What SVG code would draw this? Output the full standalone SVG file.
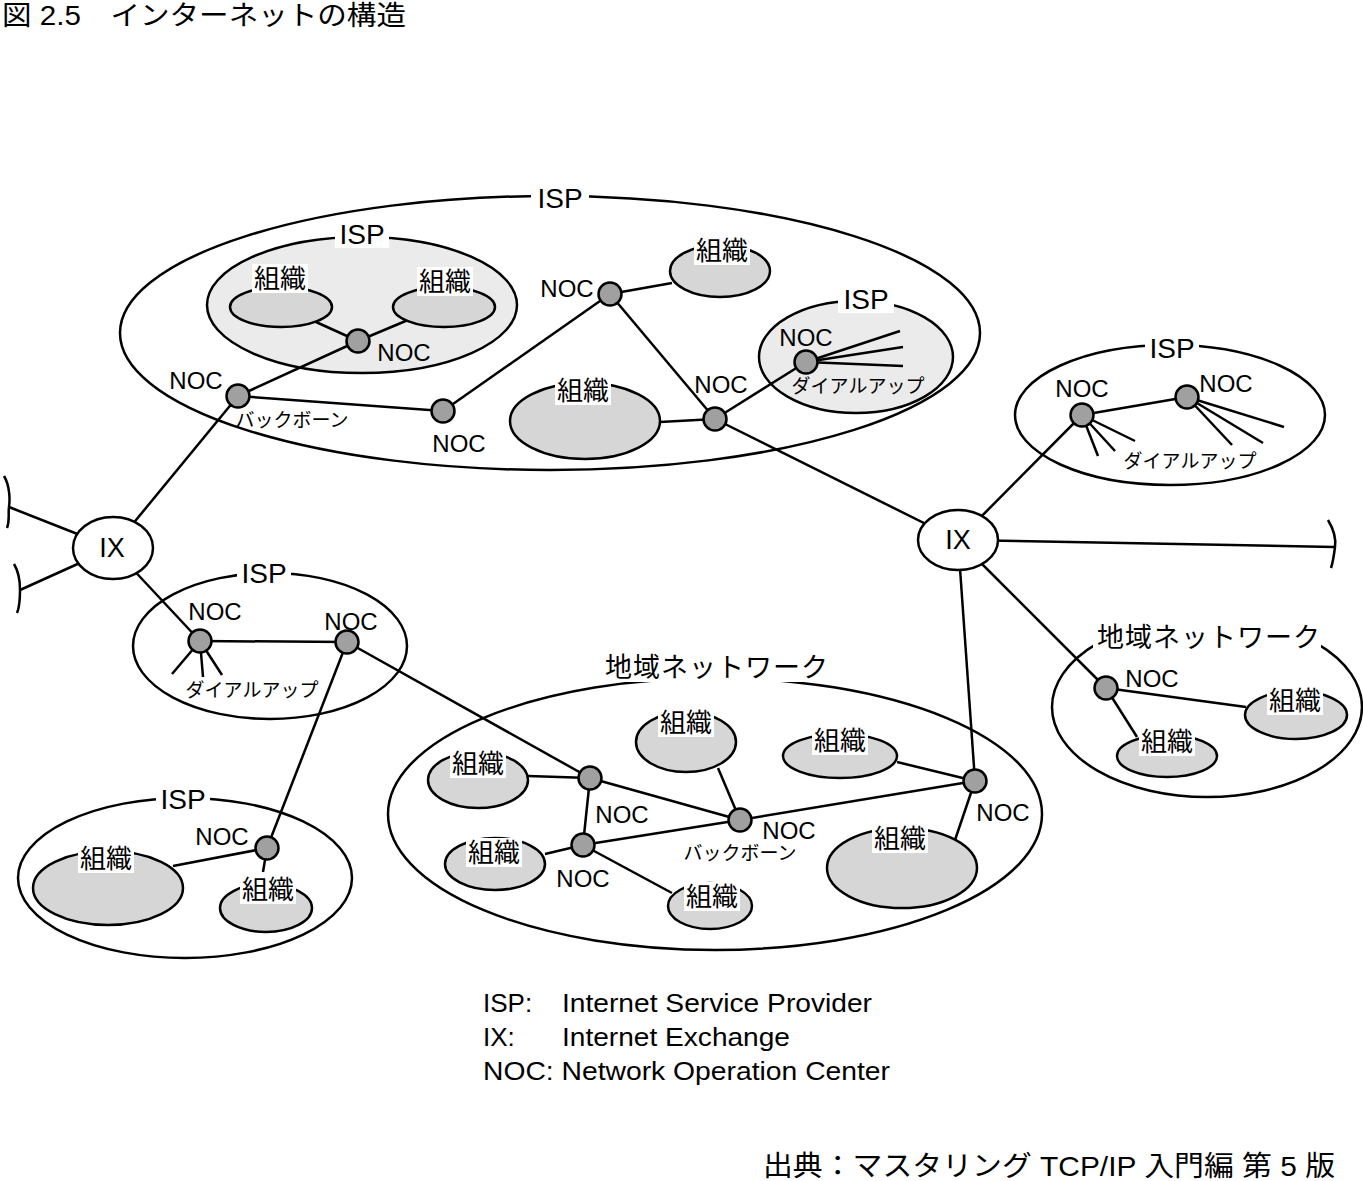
<svg xmlns="http://www.w3.org/2000/svg" width="1363" height="1181" viewBox="0 0 1363 1181">
<style>
text{font-family:"Liberation Sans","Noto Sans CJK JP",sans-serif;fill:#000}
.c{fill:none;stroke:#000;stroke-width:2.5}
.box{fill:#fff;stroke:#000;stroke-width:2.5}
.boxg{fill:#ebebeb;stroke:#000;stroke-width:2.5}
.org{fill:#d6d6d6;stroke:#000;stroke-width:2.5}
.noc{fill:#a0a0a0;stroke:#000;stroke-width:2.5}
.ix{fill:#fff;stroke:#000;stroke-width:2.5}
.bg{fill:#fff}
.t-isp{font-size:28px;text-anchor:middle}
.t-org{font-size:26px;text-anchor:middle}
.t-noc{font-size:24px;text-anchor:middle}
.t-sm{font-size:19px;text-anchor:middle}
.t-ix{font-size:27px;text-anchor:middle}
.t-reg{font-size:27px;text-anchor:middle;letter-spacing:1px}
.t-leg{font-size:26px}
</style>

<text x="2" y="25" style="font-size:27px" textLength="404" lengthAdjust="spacingAndGlyphs">図 2.5　インターネットの構造</text>

<!-- containers -->
<g id="isp-top">
  <ellipse class="box" cx="550" cy="333" rx="430" ry="137"/>
  <rect class="bg" x="531" y="184" width="58" height="28"/>
  <text class="t-isp" x="560" y="208">ISP</text>
</g>
<g id="isp-inner">
  <ellipse class="boxg" cx="362" cy="305" rx="155" ry="68"/>
  <rect class="bg" x="335" y="220" width="54" height="28"/>
  <text class="t-isp" x="362" y="244">ISP</text>
</g>
<g id="isp-dialup">
  <ellipse class="boxg" cx="856" cy="357" rx="97" ry="56"/>
  <rect class="bg" x="838" y="285" width="56" height="28"/>
  <text class="t-isp" x="866" y="309">ISP</text>
</g>
<g id="isp-right">
  <ellipse class="box" cx="1170" cy="415" rx="155" ry="70"/>
  <rect class="bg" x="1145" y="334" width="54" height="28"/>
  <text class="t-isp" x="1172" y="358">ISP</text>
</g>
<g id="isp-left">
  <ellipse class="box" cx="270" cy="646" rx="137" ry="73"/>
  <rect class="bg" x="237" y="559" width="54" height="28"/>
  <text class="t-isp" x="264" y="583">ISP</text>
</g>
<g id="isp-bottom">
  <ellipse class="box" cx="185" cy="878" rx="167" ry="80"/>
  <rect class="bg" x="156" y="785" width="54" height="28"/>
  <text class="t-isp" x="183" y="809">ISP</text>
</g>
<g id="region-center">
  <ellipse class="box" cx="715" cy="814" rx="327" ry="136"/>
  <rect class="bg" x="594" y="650" width="246" height="32"/>
  <text class="t-reg" x="717" y="677">地域ネットワーク</text>
</g>
<g id="region-right">
  <ellipse class="box" cx="1207" cy="707" rx="155" ry="90"/>
  <rect class="bg" x="1093" y="608" width="228" height="44"/>
  <text class="t-reg" x="1209" y="647">地域ネットワーク</text>
</g>

<!-- connectors -->
<g id="connectors" class="c">
  <line x1="316" y1="322" x2="358" y2="341"/>
  <line x1="408" y1="320" x2="358" y2="341"/>
  <line x1="358" y1="341" x2="238" y2="396"/>
  <line x1="238" y1="396" x2="443" y2="411"/>
  <line x1="443" y1="411" x2="610" y2="294"/>
  <line x1="610" y1="294" x2="672" y2="283"/>
  <line x1="610" y1="294" x2="715" y2="419"/>
  <line x1="660" y1="422" x2="715" y2="419"/>
  <line x1="715" y1="419" x2="806" y2="362"/>
  <line x1="806" y1="362" x2="900" y2="331"/>
  <line x1="806" y1="362" x2="903" y2="347"/>
  <line x1="806" y1="362" x2="903" y2="366"/>
  <line x1="715" y1="419" x2="958" y2="540"/>
  <line x1="113" y1="548" x2="238" y2="396"/>
  <line x1="113" y1="548" x2="9" y2="507"/>
  <line x1="113" y1="548" x2="20" y2="590"/>
  <line x1="113" y1="548" x2="200" y2="641"/>
  <path d="M4 476 C10 486 10 500 9 507 C8 514 10 520 7 528"/>
  <path d="M14 564 C20 574 20 584 20 590 C20 598 20 606 17 613"/>
  <line x1="200" y1="641" x2="347" y2="642"/>
  <line x1="200" y1="641" x2="172" y2="674"/>
  <line x1="200" y1="641" x2="203" y2="677"/>
  <line x1="200" y1="641" x2="222" y2="675"/>
  <line x1="347" y1="642" x2="267" y2="848"/>
  <line x1="347" y1="642" x2="590" y2="778"/>
  <line x1="267" y1="848" x2="173" y2="866"/>
  <line x1="267" y1="848" x2="263" y2="872"/>
  <line x1="528" y1="776" x2="590" y2="778"/>
  <line x1="590" y1="778" x2="583" y2="845"/>
  <line x1="590" y1="778" x2="740" y2="820"/>
  <line x1="583" y1="845" x2="740" y2="820"/>
  <line x1="583" y1="845" x2="545" y2="854"/>
  <line x1="583" y1="845" x2="672" y2="893"/>
  <line x1="718" y1="768" x2="740" y2="820"/>
  <line x1="740" y1="820" x2="975" y2="781"/>
  <line x1="897" y1="762" x2="975" y2="781"/>
  <line x1="975" y1="781" x2="955" y2="840"/>
  <line x1="975" y1="781" x2="958" y2="540"/>
  <line x1="958" y1="540" x2="1334" y2="547"/>
  <path d="M1328 520 C1334 530 1336 540 1335 547 C1334 555 1333 562 1331 568"/>
  <line x1="958" y1="540" x2="1082" y2="415"/>
  <line x1="1082" y1="415" x2="1187" y2="397"/>
  <line x1="1082" y1="415" x2="1098" y2="456"/>
  <line x1="1082" y1="415" x2="1115" y2="451"/>
  <line x1="1082" y1="415" x2="1135" y2="441"/>
  <line x1="1187" y1="397" x2="1232" y2="445"/>
  <line x1="1187" y1="397" x2="1263" y2="443"/>
  <line x1="1187" y1="397" x2="1284" y2="427"/>
  <line x1="958" y1="540" x2="1106" y2="688"/>
  <line x1="1106" y1="688" x2="1246" y2="707"/>
  <line x1="1106" y1="688" x2="1137" y2="737"/>
</g>

<!-- IX nodes -->
<g id="ix-left"><ellipse class="ix" cx="113" cy="548" rx="40" ry="31"/><text class="t-ix" x="112" y="557">IX</text></g>
<g id="ix-right"><ellipse class="ix" cx="958" cy="540" rx="40" ry="30"/><text class="t-ix" x="958" y="549">IX</text></g>

<!-- organizations -->
<g id="org1"><ellipse class="org" cx="281" cy="307" rx="51" ry="20"/><rect class="bg" x="252" y="264" width="56" height="29"/><text class="t-org" x="280" y="288">組織</text></g>
<g id="org2"><ellipse class="org" cx="444" cy="307" rx="51" ry="20"/><rect class="bg" x="417" y="267" width="56" height="29"/><text class="t-org" x="445" y="291">組織</text></g>
<g id="org3"><ellipse class="org" cx="720" cy="271" rx="50" ry="26"/><rect class="bg" x="694" y="236" width="56" height="29"/><text class="t-org" x="722" y="260">組織</text></g>
<g id="org4"><ellipse class="org" cx="585" cy="421" rx="75" ry="38"/><rect class="bg" x="555" y="376" width="56" height="29"/><text class="t-org" x="583" y="400">組織</text></g>
<g id="org5"><ellipse class="org" cx="108" cy="888" rx="75" ry="37"/><rect class="bg" x="78" y="844" width="56" height="29"/><text class="t-org" x="106" y="868">組織</text></g>
<g id="org6"><ellipse class="org" cx="266" cy="908" rx="46" ry="24"/><rect class="bg" x="240" y="875" width="56" height="29"/><text class="t-org" x="268" y="899">組織</text></g>
<g id="org7"><ellipse class="org" cx="478" cy="780" rx="50" ry="28"/><rect class="bg" x="450" y="749" width="56" height="29"/><text class="t-org" x="478" y="773">組織</text></g>
<g id="org8"><ellipse class="org" cx="686" cy="742" rx="50" ry="30"/><rect class="bg" x="658" y="708" width="56" height="29"/><text class="t-org" x="686" y="732">組織</text></g>
<g id="org9"><ellipse class="org" cx="840" cy="756" rx="57" ry="22"/><rect class="bg" x="812" y="726" width="56" height="29"/><text class="t-org" x="840" y="750">組織</text></g>
<g id="org10"><ellipse class="org" cx="495" cy="864" rx="50" ry="26"/><rect class="bg" x="466" y="838" width="56" height="29"/><text class="t-org" x="494" y="862">組織</text></g>
<g id="org11"><ellipse class="org" cx="710" cy="906" rx="42" ry="23"/><rect class="bg" x="684" y="882" width="56" height="29"/><text class="t-org" x="712" y="906">組織</text></g>
<g id="org12"><ellipse class="org" cx="902" cy="868" rx="75" ry="40"/><rect class="bg" x="872" y="824" width="56" height="29"/><text class="t-org" x="900" y="848">組織</text></g>
<g id="org13"><ellipse class="org" cx="1296" cy="715" rx="51" ry="24"/><rect class="bg" x="1267" y="686" width="56" height="29"/><text class="t-org" x="1295" y="710">組織</text></g>
<g id="org14"><ellipse class="org" cx="1167" cy="756" rx="50" ry="21"/><rect class="bg" x="1139" y="727" width="56" height="29"/><text class="t-org" x="1167" y="751">組織</text></g>

<!-- NOC nodes -->
<g id="noc1"><circle class="noc" cx="358" cy="341" r="11.5"/><text class="t-noc" x="404" y="361">NOC</text></g>
<g id="noc2"><circle class="noc" cx="238" cy="396" r="11.5"/><text class="t-noc" x="196" y="389">NOC</text><text class="t-sm" x="292" y="427">バックボーン</text></g>
<g id="noc3"><circle class="noc" cx="443" cy="411" r="11.5"/><text class="t-noc" x="459" y="452">NOC</text></g>
<g id="noc4"><circle class="noc" cx="610" cy="294" r="11.5"/><text class="t-noc" x="567" y="297">NOC</text></g>
<g id="noc5"><circle class="noc" cx="715" cy="419" r="11.5"/><text class="t-noc" x="721" y="393">NOC</text></g>
<g id="noc6"><circle class="noc" cx="806" cy="362" r="11.5"/><text class="t-noc" x="806" y="346">NOC</text><text class="t-sm" x="858" y="393">ダイアルアップ</text></g>
<g id="noc7"><circle class="noc" cx="1082" cy="415" r="11.5"/><text class="t-noc" x="1082" y="397">NOC</text><text class="t-sm" x="1190" y="468">ダイアルアップ</text></g>
<g id="noc8"><circle class="noc" cx="1187" cy="397" r="11.5"/><text class="t-noc" x="1226" y="392">NOC</text></g>
<g id="noc9"><circle class="noc" cx="200" cy="641" r="11.5"/><text class="t-noc" x="215" y="620">NOC</text><text class="t-sm" x="252" y="697">ダイアルアップ</text></g>
<g id="noc10"><circle class="noc" cx="347" cy="642" r="11.5"/><text class="t-noc" x="351" y="630">NOC</text></g>
<g id="noc11"><circle class="noc" cx="267" cy="848" r="11.5"/><text class="t-noc" x="222" y="845">NOC</text></g>
<g id="noc12"><circle class="noc" cx="590" cy="778" r="11.5"/><text class="t-noc" x="622" y="823">NOC</text></g>
<g id="noc13"><circle class="noc" cx="583" cy="845" r="11.5"/><text class="t-noc" x="583" y="887">NOC</text></g>
<g id="noc14"><circle class="noc" cx="740" cy="820" r="11.5"/><text class="t-noc" x="789" y="839">NOC</text><text class="t-sm" x="740" y="860">バックボーン</text></g>
<g id="noc15"><circle class="noc" cx="975" cy="781" r="11.5"/><text class="t-noc" x="1003" y="821">NOC</text></g>
<g id="noc16"><circle class="noc" cx="1106" cy="688" r="11.5"/><text class="t-noc" x="1152" y="687">NOC</text></g>

<!-- legend -->
<g id="legend">
  <text x="483" y="1012" class="t-leg">ISP:</text><text x="562" y="1012" class="t-leg" textLength="310" lengthAdjust="spacingAndGlyphs">Internet Service Provider</text>
  <text x="483" y="1046" class="t-leg">IX:</text><text x="562" y="1046" class="t-leg" textLength="228" lengthAdjust="spacingAndGlyphs">Internet Exchange</text>
  <text x="483" y="1080" class="t-leg" textLength="407" lengthAdjust="spacingAndGlyphs">NOC: Network Operation Center</text>
</g>

<text x="763" y="1176" style="font-size:28px" textLength="572" lengthAdjust="spacingAndGlyphs">出典：マスタリング TCP/IP 入門編 第 5 版</text>
</svg>
